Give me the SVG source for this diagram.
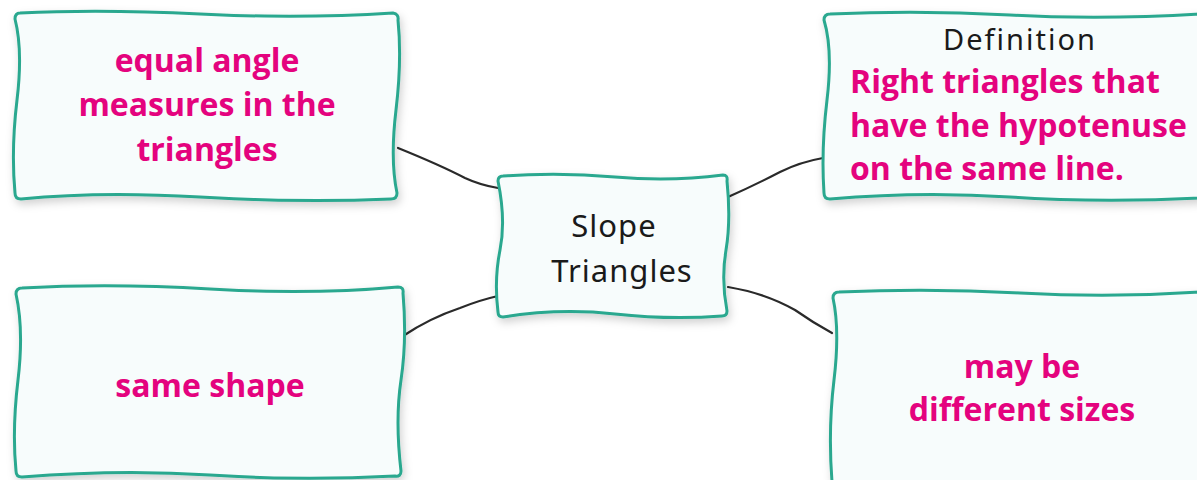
<svg xmlns="http://www.w3.org/2000/svg" width="1197" height="480" viewBox="0 0 1197 480">
<defs>
<filter id="sh" x="-10%" y="-10%" width="120%" height="125%">
<feDropShadow dx="2" dy="4" stdDeviation="4" flood-color="#000" flood-opacity="0.18"/>
</filter>
<style>
.box{fill:#f7fcfc;stroke:#2aa88f;stroke-width:3;stroke-linejoin:round;filter:url(#sh)}
.pink{font-family:"Open Sans","Liberation Sans",sans-serif;font-weight:bold;font-size:32px;fill:#e4037e;text-anchor:middle}
.hand{font-family:"Noto Sans","DejaVu Sans",sans-serif;font-size:31px;fill:#1a1a1a;text-anchor:middle;letter-spacing:1px}
.con{fill:none;stroke:#2a2a2a;stroke-width:2.2;stroke-linecap:round}
</style>
</defs>
<rect width="1197" height="480" fill="#fff"/>
<g id="connectors">
<path class="con" d="M398,148 Q440,165 465,178 Q480,185 498,188"/>
<path class="con" d="M403,336 Q430,318 460,308 Q480,300 498,296"/>
<path class="con" d="M728,197 Q755,185 780,172 Q800,162 823,158"/>
<path class="con" d="M728,287 Q765,293 795,310 Q812,322 832,333"/>
</g>
<g id="node-equal-angles">
<path class="box" d="M20,13 Q100,9 200,14 T393,13 Q399,14 398,20 Q402,60 396,110 T397,193 Q397,199 391,199 Q300,203 200,197 T21,199 Q15,199 15,193 Q11,150 17,100 T15,19 Q15,13 20,13 Z"/>
<text class="pink" x="207" y="72">equal angle</text>
<text class="pink" x="207" y="116">measures in the</text>
<text class="pink" x="207" y="161">triangles</text>
</g>
<g id="node-definition">
<path class="box" d="M830,14 Q920,10 1010,15 T1200,14 L1200,198 Q1100,203 1010,197 T830,199 Q824,199 824,193 Q821,150 827,100 T824,20 Q824,14 830,14 Z"/>
<text class="hand" x="1020" y="50" style="font-size:29px;letter-spacing:2px">Definition</text>
<text class="pink" x="850" y="93" style="text-anchor:start">Right triangles that</text>
<text class="pink" x="850" y="137" style="text-anchor:start">have the hypotenuse</text>
<text class="pink" x="850" y="180" style="text-anchor:start">on the same line.</text>
</g>
<g id="node-center">
<path class="box" d="M503,176 Q560,172 615,177 T723,175 Q728,175 727,181 Q731,220 726,250 T727,311 Q727,316 722,316 Q670,320 615,314 T503,317 Q498,317 498,312 Q494,280 500,250 T498,181 Q498,176 503,176 Z"/>
<text class="hand" x="614" y="237">Slope</text>
<text class="hand" x="622" y="282">Triangles</text>
</g>
<g id="node-same-shape">
<path class="box" d="M22,288 Q110,283 210,289 T398,287 Q404,287 403,293 Q407,340 401,380 T401,471 Q401,477 395,476 Q300,481 210,475 T22,477 Q16,477 16,471 Q12,430 18,380 T16,294 Q16,288 22,288 Z"/>
<text class="pink" x="210" y="397">same shape</text>
</g>
<g id="node-sizes">
<path class="box" d="M839,292 Q930,288 1020,293 T1200,292 L1200,482 L832,482 Q828,430 834,380 T833,298 Q833,292 839,292 Z"/>
<text class="pink" x="1022" y="378">may be</text>
<text class="pink" x="1022" y="421">different sizes</text>
</g>
</svg>
